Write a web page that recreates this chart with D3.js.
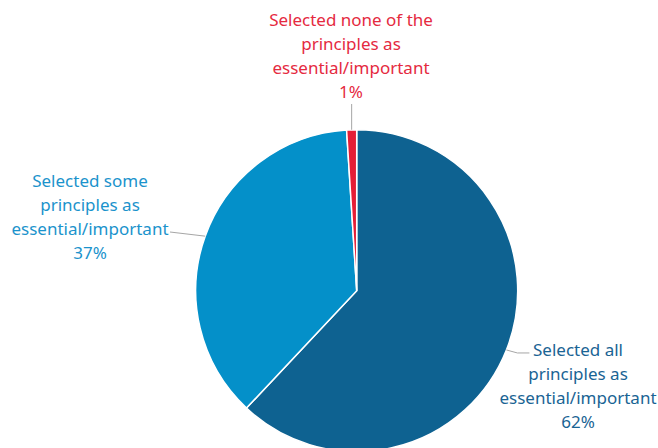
<!DOCTYPE html>
<html><head><meta charset="utf-8">
<script src="https://cdn.jsdelivr.net/npm/d3@7"></script>
<style>html,body{margin:0;padding:0;background:#fff;}svg{display:block;}</style>
</head><body>
<svg id="c" width="658" height="448"></svg>
<script>
const categories = ["Selected all principles as essential/important", "Selected some principles as essential/important", "Selected none of the principles as essential/important"];
const values = [62, 37, 1];
const labelLines = [
  ["Selected all", "principles as", "essential/important", "62%"],
  ["Selected some", "principles as", "essential/important", "37%"],
  ["Selected none of the", "principles as", "essential/important", "1%"]
];
const sliceColors = ["#0E6291", "#0490C9", "#E41E36"];
const textColors = ["#1A6494", "#1B93CC", "#E52A3F"];

const svg = d3.select("#c");
const cx = 356.7, cy = 290.7, r = 161;
const g = svg.append("g").attr("transform", `translate(${cx},${cy})`);

const pie = d3.pie().sort(null).value(d => d)(values);
const arc = d3.arc().innerRadius(0).outerRadius(r);
const edge = d3.arc().innerRadius(r).outerRadius(r);

g.selectAll("path.slice").data(pie).join("path")
  .attr("class", "slice")
  .attr("d", arc)
  .attr("fill", (d, i) => sliceColors[i])
  .attr("stroke", "#fff").attr("stroke-width", 1.5);

// label layout (text centre x, first line baseline y, leader path relative points)
const layout = [
  { x: 578, y: 356, leader: (p) => [[p[0], p[1]], [p[0] + 11, p[1] + 3], [p[0] + 23, p[1] + 3]] },
  { x: 90, y: 187, leader: (p) => [[p[0], p[1]], [170 - cx, 232 - cy]] },
  { x: 351, y: 26, leader: (p) => [[p[0], p[1]], [p[0], 104 - cy]] }
];
const lh = 24;

pie.forEach((d, i) => {
  const p = edge.centroid(d);
  g.append("path")
    .attr("d", d3.line()(layout[i].leader(p)))
    .attr("fill", "none").attr("stroke", "#A6A6A6").attr("stroke-width", 1);
  const t = svg.append("text")
    .attr("text-anchor", "middle")
    .attr("font-family", "'Noto Sans', 'Open Sans', sans-serif")
    .attr("font-size", 17)
    .attr("fill", textColors[i]);
  labelLines[i].forEach((line, k) => {
    t.append("tspan").attr("x", layout[i].x).attr("y", layout[i].y + k * lh).text(line);
  });
});
</script>
</body></html>
